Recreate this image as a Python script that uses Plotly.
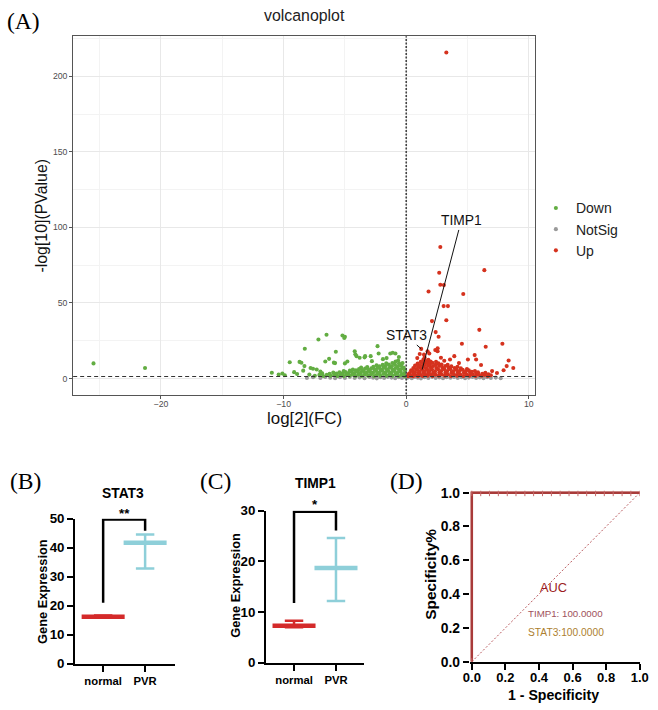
import plotly.graph_objects as go

W, H = 658, 710
# the page is shown with an 8px body margin and shrunk to the window; compensate
SX, SY = W / (W + 16), H / (H + 16)
K = 1 / SX


def fx(X):
    return (X / SX - 8) / W


def fy(Y):
    return 1 - (Y / SY - 8) / H


def fs(v):
    return round(v * K, 2)


# ---------------- Panel A: volcano data (log2FC, -log10 P) ----------------
up_sparse = [(3.27, 215.7), (2.78, 87), (6.37, 71.7), (2.69, 70), (2.78, 62), (3.07, 61.8),
             (1.82, 57.6), (4.65, 55.9), (3.05, 47.9), (3.4, 47.9), (2.1, 38), (3.27, 38.6),
             (5.96, 32.2), (2.4, 30.7), (2.64, 27.6), (4.54, 23), (6.48, 21), (7.84, 23),
             (8.35, 11.9), (8.19, 8.2), (8.73, 7), (7.94, 5.5), (7.0, 4.9), (5.58, 15.5),
             (5.03, 12.6), (3.92, 14.8), (3.57, 12.6), (2.83, 13.7), (2.37, 18.8), (1.88, 16.6),
             (1.22, 19.6), (5.7, 12.6), (2.56, 20.0), (2.56, 18.0), (1.74, 18.0), (1.1, 16.2),
             (1.45, 15.8), (3.1, 11.8), (4.3, 10.2), (6.1, 8.9), (7.4, 3.6), (0.9, 13.5)]
up_dense = [(0.15, 1.6), (0.2, 2.9), (0.35, 1.8), (0.3, 3.6), (0.4, 5.4),
            (0.55, 1.5), (0.6, 3.1), (0.5, 5.0), (0.58, 7.0),
            (0.75, 2.2), (0.7, 4.2), (0.8, 6.3), (0.72, 8.5),
            (0.95, 1.6), (1.0, 3.5), (0.9, 5.6), (0.98, 7.7), (0.93, 9.9),
            (1.15, 2.4), (1.1, 4.5), (1.2, 6.6), (1.12, 8.8), (1.18, 11.0),
            (1.35, 1.7), (1.4, 3.8), (1.3, 5.9), (1.38, 8.0), (1.33, 10.2), (1.4, 12.5),
            (1.55, 2.6), (1.5, 4.8), (1.6, 7.0), (1.52, 9.2), (1.58, 11.5), (1.5, 13.8),
            (1.75, 1.9), (1.8, 4.0), (1.7, 6.2), (1.78, 8.4), (1.73, 10.6), (1.8, 12.4),
            (1.95, 2.8), (1.9, 5.0), (2.0, 7.3), (1.92, 9.5), (1.98, 11.2),
            (2.15, 1.6), (2.2, 3.7), (2.1, 6.0), (2.18, 8.2), (2.13, 10.4),
            (2.4, 2.5), (2.35, 4.7), (2.45, 6.9), (2.38, 9.0), (2.43, 11.1),
            (2.65, 1.8), (2.7, 3.9), (2.6, 6.1), (2.68, 8.3), (2.63, 10.0),
            (2.9, 2.7), (2.85, 4.9), (2.95, 7.1), (2.88, 9.2),
            (3.15, 1.9), (3.2, 4.0), (3.1, 6.2), (3.18, 8.3),
            (3.4, 2.8), (3.35, 5.0), (3.45, 7.2), (3.38, 9.0),
            (3.65, 1.7), (3.7, 3.9), (3.6, 6.1), (3.68, 8.0),
            (3.9, 2.6), (3.85, 4.8), (3.95, 7.0),
            (4.15, 1.8), (4.2, 3.9), (4.1, 6.0), (4.18, 7.8),
            (4.4, 2.7), (4.35, 4.9), (4.45, 6.7),
            (4.65, 1.7), (4.7, 3.8), (4.6, 5.8),
            (4.9, 2.6), (4.85, 4.7), (4.95, 6.3),
            (5.15, 1.8), (5.2, 3.7), (5.1, 5.4),
            (5.4, 2.6), (5.35, 4.5),
            (5.65, 1.7), (5.7, 3.4), (5.6, 5.0),
            (5.9, 2.5), (5.85, 4.1),
            (6.15, 1.8), (6.2, 3.2),
            (6.4, 2.4), (6.45, 3.8),
            (6.65, 1.7), (6.7, 2.8),
            (6.9, 2.2)]

down_sparse = [(-25.5, 10), (-21.3, 7), (-10.96, 3.8), (-10.4, 2.6), (-10.1, 3.3), (-9.14, 4.2),
               (-9.5, 10.8), (-8.7, 11), (-8.55, 10.4), (-8.3, 8.2), (-8.27, 19.7), (-7.8, 7),
               (-7.6, 6.5), (-7.3, 6), (-7.16, 25.8), (-6.5, 29), (-6.6, 11.3), (-6.29, 13),
               (-5.9, 10.5), (-5.74, 17.7), (-5.2, 28.5), (-5.0, 27.6), (-5.05, 26.8), (-4.2, 18),
               (-4.05, 14.8), (-4.15, 16), (-3.8, 13.7), (-3.4, 14), (-2.34, 21.4), (-2.25, 16.6),
               (-1.3, 16.6), (-1.1, 17), (-0.88, 16.6), (-2.8, 11.5), (-3.35, 14.8), (-2.9, 14.8),
               (-4.8, 11.3), (-5.0, 10), (-5.8, 10.2), (-1.6, 13.5), (-0.6, 14.2), (-1.9, 12.8),
               (-9.9, 2.2), (-8.9, 3.0), (-8.4, 5.2), (-7.0, 4.6)]
down_dense = [(-0.12, 1.6), (-0.18, 3.5), (-0.1, 5.4), (-0.2, 7.2),
              (-0.38, 2.4), (-0.45, 4.5), (-0.35, 6.6), (-0.42, 8.6), (-0.3, 10.2),
              (-0.62, 1.7), (-0.7, 3.8), (-0.6, 5.9), (-0.68, 8.0), (-0.58, 10.1), (-0.66, 11.9),
              (-0.88, 2.8), (-0.95, 4.9), (-0.85, 7.0), (-0.92, 9.1), (-0.87, 11.2),
              (-1.12, 1.8), (-1.2, 3.9), (-1.1, 6.0), (-1.18, 8.1), (-1.13, 10.3),
              (-1.38, 2.9), (-1.45, 5.0), (-1.35, 7.1), (-1.42, 9.2),
              (-1.62, 1.9), (-1.7, 4.0), (-1.6, 6.1), (-1.68, 8.2), (-1.63, 10.0),
              (-1.88, 3.0), (-1.95, 5.1), (-1.85, 7.2), (-1.92, 9.0),
              (-2.12, 1.8), (-2.2, 3.9), (-2.1, 6.0), (-2.18, 8.0),
              (-2.38, 2.9), (-2.45, 5.0), (-2.35, 7.0), (-2.42, 8.8),
              (-2.62, 1.7), (-2.7, 3.8), (-2.6, 5.9), (-2.68, 7.7),
              (-2.88, 2.8), (-2.95, 4.8), (-2.85, 6.8),
              (-3.12, 1.8), (-3.2, 3.8), (-3.1, 5.8), (-3.18, 7.6),
              (-3.38, 2.7), (-3.45, 4.7), (-3.35, 6.6),
              (-3.62, 1.7), (-3.7, 3.7), (-3.6, 5.6), (-3.68, 7.3),
              (-3.88, 2.6), (-3.95, 4.5), (-3.85, 6.2),
              (-4.12, 1.7), (-4.2, 3.6), (-4.1, 5.4),
              (-4.38, 2.6), (-4.45, 4.4), (-4.35, 6.0),
              (-4.62, 1.8), (-4.7, 3.6), (-4.6, 5.2),
              (-4.88, 2.6), (-4.95, 4.3),
              (-5.12, 1.7), (-5.2, 3.5), (-5.1, 5.0),
              (-5.38, 2.5), (-5.45, 4.1),
              (-5.62, 1.7), (-5.7, 3.3),
              (-5.88, 2.4), (-5.95, 4.0),
              (-6.18, 1.8), (-6.25, 3.2),
              (-6.48, 2.5),
              (-6.78, 1.7), (-6.85, 3.4),
              (-7.08, 2.4), (-7.45, 1.8), (-7.9, 2.6)]

notsig_points = [(-8.1, 0.4), (-7.6, 0.9), (-7.0, 0.3), (-6.6, 1.0), (-6.2, 0.5), (-5.8, 0.2),
                 (-5.4, 0.8), (-5.0, 0.4), (-4.6, 1.1), (-4.2, 0.3), (-3.8, 0.7), (-3.4, 0.2),
                 (-3.0, 1.0), (-2.7, 0.5), (-2.4, 0.1), (-2.1, 0.8), (-1.8, 0.4), (-1.5, 1.1),
                 (-1.2, 0.6), (-0.9, 0.2), (-0.6, 0.9), (-0.35, 0.4), (-0.15, 1.2), (0.05, 0.3),
                 (0.05, 1.8), (-0.05, 2.5), (0.2, 0.8), (0.45, 0.2), (0.7, 1.0), (0.95, 0.5),
                 (1.2, 0.1), (1.5, 0.8), (1.8, 0.4), (2.1, 1.1), (2.4, 0.3), (2.7, 0.7),
                 (3.0, 0.2), (3.3, 0.9), (3.6, 0.5), (3.9, 1.0), (4.2, 0.3), (4.5, 0.8),
                 (4.8, 0.2), (5.1, 0.6), (5.4, 1.0), (5.7, 0.3), (6.0, 0.7), (6.3, 0.2),
                 (6.6, 0.9), (6.9, 0.4), (7.3, 0.6), (7.7, 0.2)]

up_points = up_dense + up_sparse
down_points = down_dense + down_sparse
up_x = [p[0] for p in up_points]
up_y = [p[1] for p in up_points]
down_x = [p[0] for p in down_points]
down_y = [p[1] for p in down_points]
ns_x = [p[0] for p in notsig_points]
ns_y = [p[1] for p in notsig_points]

fc_cut = 0.0
p_cut = 1.3  # -log10(0.05)

label_genes = ["TIMP1", "STAT3"]
label_fc = [1.3, 1.22]
label_p = [6.0, 19.6]
label_text_fc = [4.49, 0.0]
label_text_p = [104.6, 28.5]

# ---------------- Panels B, C: expression ----------------
groups = ["normal", "PVR"]
group_pos = [1, 2]
stat3_mean = [16.2, 41.7]
stat3_upper = [16.6, 44.5]
stat3_lower = [15.9, 32.8]
stat3_bracket_y = [21.0, 49.7, 49.7, 45.8]
timp1_mean = [7.3, 18.7]
timp1_upper = [8.3, 24.6]
timp1_lower = [7.0, 12.2]
timp1_bracket_y = [11.8, 29.8, 29.8, 26.1]
bracket_x = [1, 1, 2, 2]
group_colors = ["#d42a2a", "#8ecfd9"]

# ---------------- Panel D: ROC ----------------
roc_fpr = [0, 0, 0.053, 0.105, 0.158, 0.211, 0.263, 0.316, 0.368, 0.421, 0.474, 0.526,
           0.579, 0.632, 0.684, 0.737, 0.789, 0.842, 0.895, 0.947, 1.0]
roc_tpr = [0, 1, 1, 1, 1, 1, 1, 1, 1, 1, 1, 1, 1, 1, 1, 1, 1, 1, 1, 1, 1]
auc_timp1 = 100.0
auc_stat3 = 100.0

SANS = "Liberation Sans, Arial, sans-serif"
SERIF = "Liberation Serif, Times New Roman, serif"
GREEN, RED, GREY = "#62ad42", "#d5321e", "#9a9a9a"
MS = fs(4)

fig = go.Figure()

# volcano traces
fig.add_trace(go.Scatter(x=ns_x, y=ns_y, mode="markers", name="NotSig", legendrank=2,
                         marker=dict(color=GREY, size=MS), xaxis="x", yaxis="y"))
fig.add_trace(go.Scatter(x=down_x, y=down_y, mode="markers", name="Down", legendrank=1,
                         marker=dict(color=GREEN, size=MS), xaxis="x", yaxis="y"))
fig.add_trace(go.Scatter(x=up_x, y=up_y, mode="markers", name="Up", legendrank=3,
                         marker=dict(color=RED, size=MS), xaxis="x", yaxis="y"))


def group_traces(mean, upper, lower, bracket_y, xa, ya):
    for i in range(2):
        fig.add_trace(go.Scatter(
            x=[group_pos[i]], y=[mean[i]], mode="markers", showlegend=False,
            xaxis=xa, yaxis=ya,
            marker=dict(symbol="line-ew", size=fs(30), color=group_colors[i],
                        line=dict(color=group_colors[i], width=4.5)),
            error_y=dict(type="data", symmetric=False,
                         array=[upper[i] - mean[i]], arrayminus=[mean[i] - lower[i]],
                         color=group_colors[i], thickness=2.5, width=fs(9))))
    fig.add_trace(go.Scatter(x=bracket_x, y=bracket_y, mode="lines", showlegend=False,
                             xaxis=xa, yaxis=ya, line=dict(color="black", width=2.5)))


group_traces(stat3_mean, stat3_upper, stat3_lower, stat3_bracket_y, "x2", "y2")
group_traces(timp1_mean, timp1_upper, timp1_lower, timp1_bracket_y, "x3", "y3")

# ROC
fig.add_trace(go.Scatter(x=[0, 1], y=[0, 1], mode="lines", showlegend=False, xaxis="x4", yaxis="y4",
                         line=dict(color="#b8585c", width=1, dash="2px,2px")))
fig.add_trace(go.Scatter(x=roc_fpr, y=roc_tpr, mode="lines", showlegend=False, xaxis="x4", yaxis="y4",
                         line=dict(color="#b0473f", width=2.5)))
fig.add_trace(go.Scatter(x=roc_fpr, y=roc_tpr, mode="lines+markers", showlegend=False, xaxis="x4", yaxis="y4",
                         line=dict(color="#a83a3a", width=2),
                         marker=dict(symbol="line-ns", size=5, line=dict(color="#c46a6a", width=1))))

tick_a = dict(size=fs(8.5), color="#4d4d4d", family=SANS)
bold_tick = dict(size=fs(13), color="black", family=SANS, weight="bold")
cat_tick = dict(size=fs(11), family=SANS, weight="bold", color="black")
roc_tick = dict(size=13, family=SANS, weight="bold", color="black")

fig.update_layout(
    width=W, height=H, margin=dict(l=0, r=0, t=0, b=0),
    paper_bgcolor="white", plot_bgcolor="white",
    font=dict(family=SANS, color="black"),
    showlegend=True,
    legend=dict(x=fx(537), y=fy(193), xanchor="left", yanchor="top",
                font=dict(size=14, family=SANS, color="#222"), bgcolor="rgba(0,0,0,0)",
                borderwidth=0, itemsizing="trace"),
    xaxis=dict(domain=[fx(74), fx(536)], range=[-27.16, 10.49], dtick=10, tick0=0,
               showgrid=True, gridcolor="#e8e8e8", gridwidth=1,
               minor=dict(dtick=5, tick0=0, showgrid=True, gridcolor="#f3f3f3", gridwidth=0.6),
               showline=True, mirror=True, linecolor="#555", linewidth=1,
               ticks="outside", ticklen=3, tickcolor="#555", zeroline=False, tickfont=tick_a,
               ticklabelstandoff=-2, anchor="y"),
    yaxis=dict(domain=[fy(395), fy(37)], range=[-10.6, 226.5], dtick=50, tick0=0,
               showgrid=True, gridcolor="#e8e8e8", gridwidth=1,
               minor=dict(dtick=25, tick0=0, showgrid=True, gridcolor="#f3f3f3", gridwidth=0.6),
               showline=True, mirror=True, linecolor="#555", linewidth=1,
               ticks="outside", ticklen=3, tickcolor="#555", zeroline=False, tickfont=tick_a,
               anchor="x"),
    xaxis2=dict(domain=[fx(76), fx(176)], range=[0.333, 2.714], tickvals=group_pos, ticktext=groups,
                showline=True, linecolor="black", linewidth=2, ticks="outside", ticklen=6, tickwidth=2,
                tickcolor="black", showgrid=False, zeroline=False, anchor="y2", tickfont=cat_tick),
    yaxis2=dict(domain=[fy(664), fy(519)], range=[0, 50], dtick=10, showline=True, linecolor="black",
                linewidth=2, ticks="outside", ticklen=6, tickwidth=2, tickcolor="black",
                showgrid=False, zeroline=False, anchor="x2", tickfont=bold_tick),
    xaxis3=dict(domain=[fx(267), fx(365)], range=[0.333, 2.667], tickvals=group_pos, ticktext=groups,
                showline=True, linecolor="black", linewidth=2, ticks="outside", ticklen=6, tickwidth=2,
                tickcolor="black", showgrid=False, zeroline=False, anchor="y3", tickfont=cat_tick),
    yaxis3=dict(domain=[fy(663), fy(511)], range=[0, 30], dtick=10, showline=True, linecolor="black",
                linewidth=2, ticks="outside", ticklen=6, tickwidth=2, tickcolor="black",
                showgrid=False, zeroline=False, anchor="x3", tickfont=bold_tick),
    xaxis4=dict(domain=[fx(470.9), 648.5 / W], range=[-0.012, 1.0], tickvals=[0, 0.2, 0.4, 0.6, 0.8, 1.0],
                tickformat=".1f", showline=True, linecolor="black", linewidth=2, ticks="outside",
                ticklen=6, tickwidth=2, tickcolor="black", showgrid=False, zeroline=False, anchor="y4",
                ticklabelstandoff=-3, tickfont=roc_tick),
    yaxis4=dict(domain=[fy(662), fy(491)], range=[0, 1.012], tickvals=[0, 0.2, 0.4, 0.6, 0.8, 1.0],
                tickformat=".1f", showline=False, ticks="outside", ticklen=6, tickwidth=2,
                tickcolor="black", showgrid=False, zeroline=False, anchor="x4",
                tickfont=dict(size=fs(13.5), family=SANS, weight="bold", color="black")),
)

# threshold lines
fig.add_shape(type="line", xref="x", yref="y domain", x0=fc_cut, x1=fc_cut, y0=0, y1=1,
              line=dict(color="#444", width=1.6, dash="2px,1.5px"))
fig.add_shape(type="line", xref="x domain", yref="y", x0=0, x1=1, y0=p_cut, y1=p_cut,
              line=dict(color="#333", width=1.1, dash="4px,3px"))

ann = []
# gene labels with leader lines
for g, x, y, tx, ty in zip(label_genes, label_fc, label_p, label_text_fc, label_text_p):
    ann.append(dict(x=x, y=y, ax=tx, ay=ty, axref="x", ayref="y", xref="x", yref="y",
                    text=g, showarrow=True, arrowhead=0, arrowwidth=1, arrowcolor="#111",
                    font=dict(size=fs(13.5), family=SANS, color="#111")))


def t(text, x, y, size, color="black", bold=False, family=SANS, angle=0):
    f = dict(size=fs(size), family=family, color=color)
    if bold:
        f["weight"] = "bold"
    ann.append(dict(text=text, x=fx(x), y=fy(y), xref="paper", yref="paper", showarrow=False,
                    xanchor="center", yanchor="middle", font=f, textangle=angle))


# panel labels
t("(A)", 24, 22, 23, family=SERIF)
t("(B)", 26, 481, 23, family=SERIF)
t("(C)", 216, 481, 23, family=SERIF)
t("(D)", 408, 481, 23, family=SERIF)

# panel A titles
t("volcanoplot", 305, 16.5, 15.5, color="#222")
t("log[2](FC)", 305, 419, 16.5, color="#111")
t("-log[10](PValue)", 42, 216, 15.5, color="#111", angle=-90)

# panel B
t("STAT3", 124, 493, 13.5, bold=True)
t("**", 125, 514, 13, bold=True)
t("Gene Expression", 44, 592, 12.5, bold=True, angle=-90)
# panel C
t("TIMP1", 316, 483, 13.5, bold=True)
t("*", 316, 505, 13, bold=True)
t("Gene Expression", 237, 586, 12.5, bold=True, angle=-90)
# panel D
t("Specificity%", 432, 574, 15, bold=True, angle=-90)
t("1 - Specificity", 555, 695.5, 13.8, bold=True)
t("AUC", 555, 588, 12.5, color="#9b1c22")
t(f"TIMP1: {auc_timp1:.4f}", 567, 614, 9.5, color="#a0525c")
t(f"STAT3:{auc_stat3:.4f}", 567, 633, 10, color="#ad7f2f")

fig.update_layout(annotations=ann)

fig.write_html("out.html")
